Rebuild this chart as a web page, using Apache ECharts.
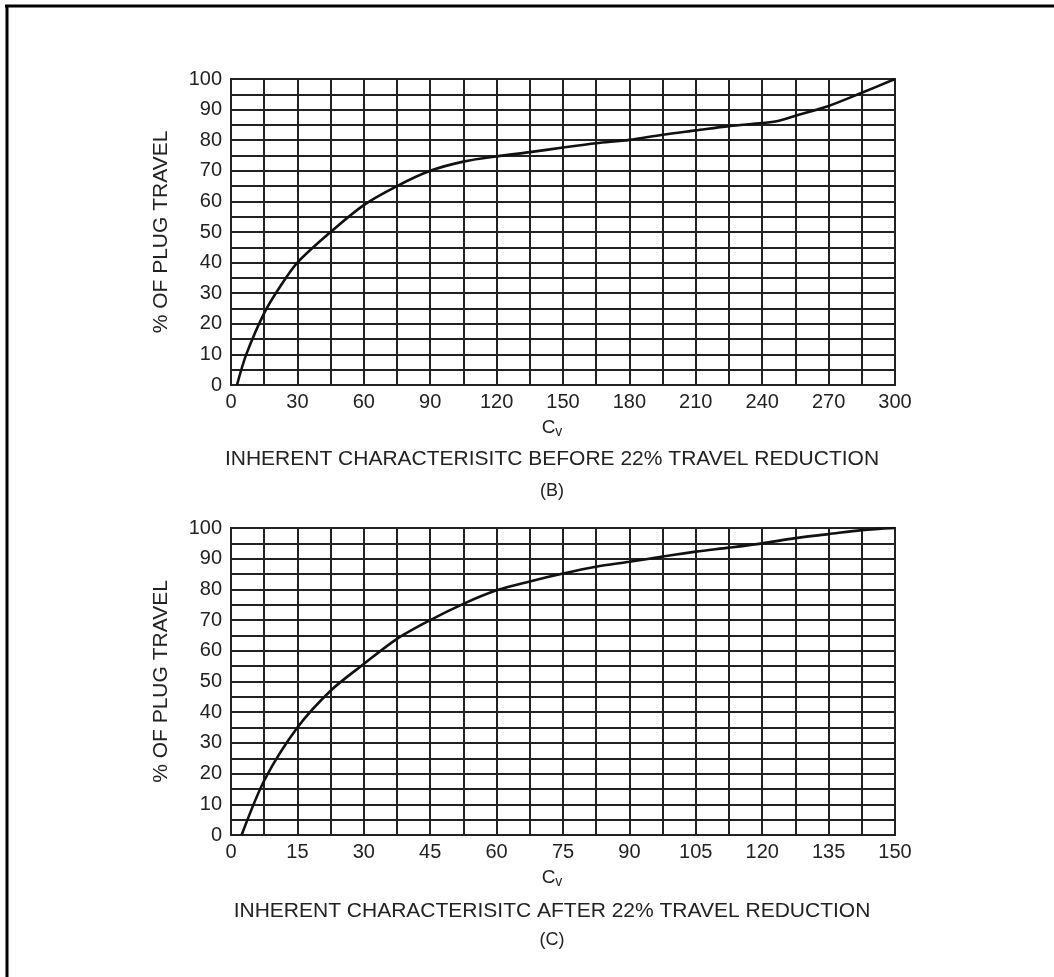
<!DOCTYPE html>
<html>
<head>
<meta charset="utf-8">
<script src="https://cdn.jsdelivr.net/npm/echarts@6/dist/echarts.min.js"></script>
<style>
  html, body { margin: 0; padding: 0; background: #fff; }
  #chart { width: 1054px; height: 977px; }
</style>
</head>
<body>
<div id="chart"></div>
<script>
// ---- Data ----
const yTicks = [0, 10, 20, 30, 40, 50, 60, 70, 80, 90, 100];
const xTicksB = [0, 30, 60, 90, 120, 150, 180, 210, 240, 270, 300];
const xTicksC = [0, 15, 30, 45, 60, 75, 90, 105, 120, 135, 150];

// Chart (B): Cv vs % of plug travel, before 22% travel reduction
const cvB     = [2.7, 6.9, 15, 22.5, 30, 45, 60, 75, 90, 105, 120, 135, 150, 165, 180, 195, 210, 225, 240, 247, 255, 270, 285, 300];
const travelB = [0, 10, 23.5, 32.5, 40, 50, 58.8, 65, 70, 73, 74.7, 76.1, 77.6, 79, 80.1, 81.8, 83.2, 84.6, 85.6, 86.3, 88, 91.2, 95.5, 100];

// Chart (C): Cv vs % of plug travel, after 22% travel reduction
const cvC     = [2.4, 7.6, 15, 22.5, 30, 37.5, 45, 52.5, 60, 67.5, 75, 82.5, 90, 97.5, 105, 112.5, 120, 127.5, 135, 142.5, 150];
const travelC = [0, 18, 35, 47, 55.7, 63.9, 70, 75.3, 79.7, 82.6, 85.2, 87.4, 89, 90.7, 92.3, 93.6, 95, 96.7, 98, 99.3, 100];

const titleB = 'INHERENT CHARACTERISITC BEFORE 22% TRAVEL REDUCTION';
const titleC = 'INHERENT CHARACTERISITC AFTER 22% TRAVEL REDUCTION';
const yName = '% OF PLUG TRAVEL';

// ---- Build ----
const FONT = '"Liberation Sans", Arial, Helvetica, sans-serif';
const INK = '#222';
const gridLine = { color: INK, width: 2 };

function xAxis(gridIndex, ticks) {
  const step = ticks[1] - ticks[0];
  return {
    type: 'value', gridIndex,
    min: ticks[0], max: ticks[ticks.length - 1], interval: step,
    name: '{c|C}{v|v}', nameLocation: 'middle', nameGap: 32,
    nameTextStyle: {
      padding: [0, 22, 0, 0],
      rich: {
        c: { fontSize: 19, fontFamily: FONT, color: INK, lineHeight: 22, verticalAlign: 'middle' },
        v: { fontSize: 14, fontFamily: FONT, color: INK, lineHeight: 14, verticalAlign: 'bottom' }
      }
    },
    axisLine: { show: true, lineStyle: gridLine },
    axisTick: { show: false },
    axisLabel: { fontSize: 20, fontFamily: FONT, color: INK, margin: 7 },
    splitLine: { show: true, lineStyle: gridLine },
    minorTick: { show: false, splitNumber: 2 },
    minorSplitLine: { show: true, lineStyle: gridLine }
  };
}

function yAxis(gridIndex) {
  return {
    type: 'value', gridIndex,
    min: yTicks[0], max: yTicks[yTicks.length - 1], interval: yTicks[1] - yTicks[0],
    name: yName, nameLocation: 'middle', nameGap: 59,
    nameTextStyle: { fontSize: 21, fontFamily: FONT, color: INK },
    axisLine: { show: true, lineStyle: gridLine },
    axisTick: { show: false },
    axisLabel: { fontSize: 20, fontFamily: FONT, color: INK, margin: 9, padding: [6, 0, 0, 0] },
    splitLine: { show: true, lineStyle: gridLine },
    minorTick: { show: false, splitNumber: 2 },
    minorSplitLine: { show: true, lineStyle: gridLine }
  };
}

function pairs(xs, ys) { return xs.map((x, i) => [x, ys[i]]); }

const chart = echarts.init(document.getElementById('chart'), null, { renderer: 'canvas' });
chart.setOption({
  backgroundColor: '#fff',
  animation: false,
  grid: [
    { left: 231, top: 79, width: 664, height: 306, show: true, borderColor: INK, borderWidth: 2 },
    { left: 231, top: 528, width: 664, height: 307, show: true, borderColor: INK, borderWidth: 2 }
  ],
  xAxis: [xAxis(0, xTicksB), xAxis(1, xTicksC)],
  yAxis: [yAxis(0), yAxis(1)],
  series: [
    { type: 'line', xAxisIndex: 0, yAxisIndex: 0, data: pairs(cvB, travelB),
      smooth: 0.3, showSymbol: false,
      lineStyle: { color: '#111', width: 2.6 } },
    { type: 'line', xAxisIndex: 1, yAxisIndex: 1, data: pairs(cvC, travelC),
      smooth: 0.3, showSymbol: false,
      lineStyle: { color: '#111', width: 2.6 } }
  ],
  graphic: [
    { type: 'line', shape: { x1: 5, y1: 6, x2: 1054, y2: 6 }, style: { stroke: '#000', lineWidth: 3 } },
    { type: 'line', shape: { x1: 7, y1: 5, x2: 7, y2: 977 }, style: { stroke: '#000', lineWidth: 3 } },
    { type: 'text', x: 552, y: 459, style: { text: titleB, font: '21px ' + FONT, fill: INK, textAlign: 'center', textVerticalAlign: 'middle' } },
    { type: 'text', x: 552, y: 491, style: { text: '(B)', font: '18px ' + FONT, fill: INK, textAlign: 'center', textVerticalAlign: 'middle' } },
    { type: 'text', x: 552, y: 911, style: { text: titleC, font: '21px ' + FONT, fill: INK, textAlign: 'center', textVerticalAlign: 'middle' } },
    { type: 'text', x: 552, y: 940, style: { text: '(C)', font: '18px ' + FONT, fill: INK, textAlign: 'center', textVerticalAlign: 'middle' } }
  ]
});
</script>
</body>
</html>
